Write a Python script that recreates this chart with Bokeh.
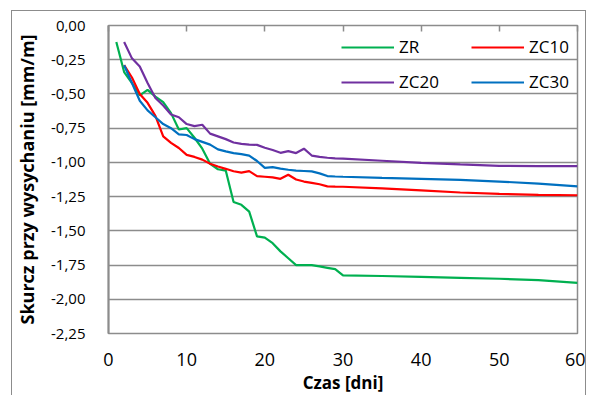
from bokeh.plotting import figure
from bokeh.models import (Range1d, LinearAxis, FixedTicker, CustomJSTickFormatter)
from bokeh.embed import file_html
from bokeh.resources import INLINE

# ---- data ----
days_zr = [1, 2, 3, 4, 5, 6, 7, 8, 9, 10, 11, 12, 13, 14, 15, 16, 17, 18, 19, 20,
           21, 22, 23, 24, 25, 26, 27, 28, 29, 30, 35, 40, 45, 50, 55, 60]
zr = [-0.12, -0.34, -0.42, -0.51, -0.47, -0.52, -0.56, -0.64, -0.76, -0.75,
      -0.82, -0.90, -1.01, -1.05, -1.06, -1.29, -1.31, -1.36, -1.54, -1.55,
      -1.59, -1.65, -1.70, -1.75, -1.75, -1.75, -1.76, -1.77, -1.78, -1.825,
      -1.83, -1.836, -1.843, -1.85, -1.86, -1.88]

days_zc = [2, 3, 4, 5, 6, 7, 8, 9, 10, 11, 12, 13, 14, 15, 16, 17, 18, 19, 20,
           21, 22, 23, 24, 25, 26, 27, 28, 29, 30, 35, 40, 45, 50, 55, 60]
zc10 = [-0.29, -0.38, -0.50, -0.565, -0.66, -0.81, -0.857, -0.895, -0.945, -0.96,
        -0.98, -1.01, -1.03, -1.047, -1.065, -1.075, -1.064, -1.10, -1.105,
        -1.11, -1.12, -1.09, -1.125, -1.14, -1.15, -1.16, -1.175, -1.177, -1.178,
        -1.19, -1.205, -1.22, -1.23, -1.237, -1.24]
zc20 = [-0.12, -0.24, -0.30, -0.42, -0.53, -0.584, -0.65, -0.67, -0.72, -0.735,
        -0.725, -0.79, -0.81, -0.83, -0.855, -0.865, -0.87, -0.872, -0.893,
        -0.91, -0.93, -0.918, -0.932, -0.90, -0.95, -0.96, -0.966, -0.97, -0.973,
        -0.988, -1.003, -1.015, -1.025, -1.027, -1.028]
zc30 = [-0.29, -0.42, -0.55, -0.62, -0.67, -0.72, -0.75, -0.795, -0.80, -0.83,
        -0.85, -0.87, -0.905, -0.92, -0.932, -0.94, -0.95, -0.99, -1.04,
        -1.035, -1.045, -1.054, -1.06, -1.063, -1.066, -1.08, -1.10, -1.103, -1.105,
        -1.113, -1.12, -1.128, -1.14, -1.155, -1.175]

x_ticks = [0, 10, 20, 30, 40, 50, 60]
y_ticks = [0.0, -0.25, -0.5, -0.75, -1.0, -1.25, -1.5, -1.75, -2.0, -2.25]

series = [("ZR", days_zr, zr, "#00B050"),
          ("ZC10", days_zc, zc10, "#FF0000"),
          ("ZC20", days_zc, zc20, "#7030A0"),
          ("ZC30", days_zc, zc30, "#0070C0")]

FONT = "Open Sans"
GRAY = "#8c8c8c"

p = figure(width=575, height=385, output_backend="svg", toolbar_location=None,
           x_range=Range1d(0, 60), y_range=Range1d(-2.25, 0),
           min_border_left=95, min_border_right=10, min_border_top=14,
           min_border_bottom=63, margin=(10, 0, 0, 11))
p.styles = {"border-top": "1px solid #8c8c8c", "border-left": "1px solid #8c8c8c",
            "border-right": "1px solid #8c8c8c"}

for name, xs, ys, col in series:
    p.line(xs, ys, line_color=col, line_width=2.2, legend_label=name)

p.outline_line_color = GRAY
p.outline_line_width = 1.5
p.xgrid.visible = False
p.ygrid.ticker = FixedTicker(ticks=y_ticks)
p.ygrid.grid_line_color = GRAY
p.ygrid.grid_line_width = 1.5

# y axis
ya = p.yaxis[0]
ya.ticker = FixedTicker(ticks=y_ticks)
ya.formatter = CustomJSTickFormatter(code="return tick.toFixed(2).replace('.', ',');")
ya.major_tick_line_color = None
ya.minor_tick_line_color = None
ya.axis_line_color = GRAY
ya.axis_line_width = 2
ya.major_label_standoff = 17
ya.major_label_text_font = FONT
ya.major_label_text_font_size = "15px"
ya.major_label_text_color = "#000000"
ya.axis_label = "Skurcz przy wysychaniu [mm/m]"
ya.axis_label_text_font = FONT
ya.axis_label_text_font_style = "bold"
ya.axis_label_text_font_size = "18px"
ya.axis_label_text_color = "#000000"
ya.axis_label_standoff = 9

# x axis
xa = p.xaxis[0]
xa.ticker = FixedTicker(ticks=x_ticks)
xa.major_tick_line_color = None
xa.minor_tick_line_color = None
xa.axis_line_color = None
xa.major_label_standoff = 13
xa.major_label_text_font = FONT
xa.major_label_text_font_size = "18px"
xa.major_label_text_color = "#000000"
xa.axis_label = "Czas [dni]"
xa.axis_label_text_font = FONT
xa.axis_label_text_font_style = "bold"
xa.axis_label_text_font_size = "17px"
xa.axis_label_text_color = "#000000"
xa.axis_label_standoff = 2

# top ticks pointing inward
ta = LinearAxis(ticker=FixedTicker(ticks=x_ticks),
                formatter=CustomJSTickFormatter(code="return '';"))
ta.major_tick_in = 6
ta.major_tick_out = 0
ta.major_tick_line_color = GRAY
ta.major_tick_line_width = 1.5
ta.minor_tick_line_color = None
ta.axis_line_color = None
ta.major_label_standoff = 0
ta.major_label_text_font_size = "4px"
p.add_layout(ta, "above")

lg = p.legend[0]
items = list(lg.items)
lg.items = [items[0], items[2], items[1], items[3]]
lg.ncols = 2
lg.location = (233, 240)
lg.border_line_color = None
lg.background_fill_alpha = 0
lg.label_text_font = FONT
lg.label_text_font_size = "17px"
lg.label_text_color = "#000000"
lg.glyph_width = 53
lg.label_standoff = 5
lg.label_width = 60
lg.padding = 0
lg.margin = 0
lg.spacing = 12

open("out.html", "w").write(file_html(p, INLINE))
